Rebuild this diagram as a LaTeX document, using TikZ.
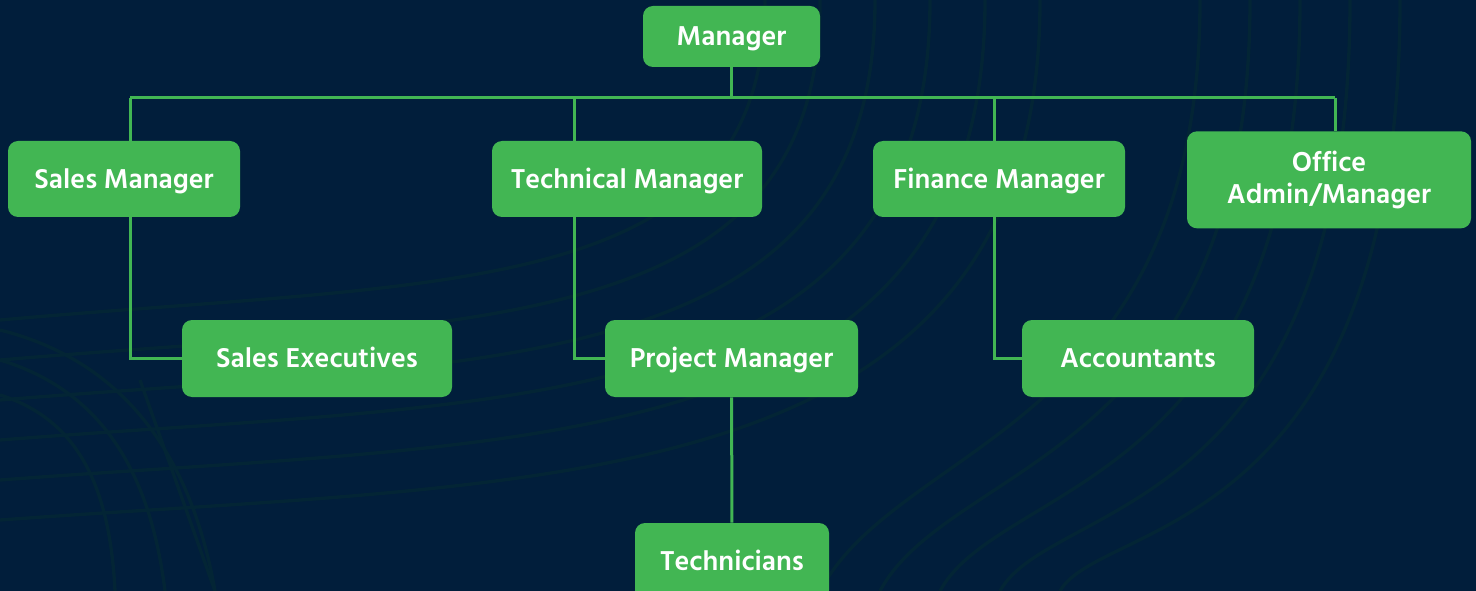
\documentclass[tikz,border=0pt]{standalone}
\usepackage{fontspec}
\setmainfont{Hind Siliguri}[BoldFont={* SemiBold}]
\usepackage{tikz}
\usetikzlibrary{backgrounds}
\definecolor{navy}{RGB}{1,30,59}
\definecolor{leaf}{RGB}{66,182,83}
\definecolor{swirl}{RGB}{3,37,53}
\tikzset{orgbox/.style={rectangle, rounded corners=7.5pt, fill=leaf, text=white, inner sep=0pt, align=center, font=\bfseries\fontsize{21}{23.5}\selectfont},
  oneline/.style={text height=17pt, text depth=3pt}}
\newcommand{\orgnode}[5] {\node at (#1) (#2) [orgbox, oneline, minimum width=#3, minimum height=#4] {#5};}
\newcommand{\orgdrop}[2] {\coordinate (#2) at (#1);}
\newcommand{\orglink}[2] {\draw [leaf, line width=2.25pt] (#1) -- (#2);}
\newcommand{\orgelbow}[2] {\draw [leaf, line width=2.25pt] (#1) |- (#2);}

\begin{document}
\begin{tikzpicture}[x=0.75pt, y=-0.75pt]
\useasboundingbox (0,0) rectangle (1476,591);
\orgnode {731.5,36.5} {mgr} {132.75pt} {45.75pt} {Manager};
\orgnode {124,179} {sales} {174pt} {57pt} {Sales Manager};
\orgnode {627,179} {tech} {202.5pt} {57pt} {Technical Manager};
\orgnode {999,179} {fin} {189pt} {57pt} {Finance Manager};
\node at (1329,178.5) (office) [orgbox, minimum width=213pt, minimum height=72.75pt, yshift=-1pt] {Office\\Admin/Manager};
\orgnode {317,358.5} {salesexec} {202.5pt} {57.75pt} {Sales Executives};
\orgnode {731.5,358.5} {proj} {189.75pt} {57.75pt} {Project Manager};
\orgnode {1138,358.5} {acct} {174pt} {57.75pt} {Accountants};
\orgnode {732,561.5} {techs} {145.5pt} {57.75pt} {Technicians};

\orgdrop {731.5,98} {bus};
\orgdrop {130,98} {dsales};
\orgdrop {574,98} {dtech};
\orgdrop {994,98} {dfin};
\orgdrop {1335,98} {doffice};

\begin{scope}[on background layer]
\fill [navy] (0,0) rectangle (1476,591);
% faint swirl pattern behind the chart
\begin{scope}[swirl, line width=2.5pt]
\draw (765,0) .. controls (765,300) and (450,280) .. (0,320);
\draw (820,0) .. controls (820,340) and (470,320) .. (0,360);
\draw (875,0) .. controls (875,380) and (490,360) .. (0,400);
\draw (930,0) .. controls (930,420) and (510,400) .. (0,440);
\draw (985,0) .. controls (985,460) and (530,440) .. (0,480);
\draw (1040,0) .. controls (1040,500) and (550,480) .. (0,520);
\draw (1200,0) .. controls (1200,430) and (900,440) .. (820,591);
\draw (1250,0) .. controls (1250,460) and (950,460) .. (880,591);
\draw (1300,0) .. controls (1300,490) and (1000,480) .. (940,591);
\draw (1350,0) .. controls (1350,520) and (1050,500) .. (1000,591);
\draw (1400,0) .. controls (1400,540) and (1100,520) .. (1060,591);
\draw (0,330) .. controls (120,360) and (190,450) .. (215,591);
\draw (0,360) .. controls (100,390) and (150,470) .. (165,591);
\draw (0,395) .. controls (80,420) and (110,490) .. (115,591);
\draw (140,380) -- (215,591);
\end{scope}
\orglink {mgr} {bus};
\orglink {dsales} {doffice};
\orgelbow {dsales} {salesexec.west};
\orgelbow {dtech} {proj.west};
\orgelbow {dfin} {acct.west};
\orglink {doffice} {doffice |- office.north};
\orglink {proj} {techs};
\end{scope}
\end{tikzpicture}
\end{document}
